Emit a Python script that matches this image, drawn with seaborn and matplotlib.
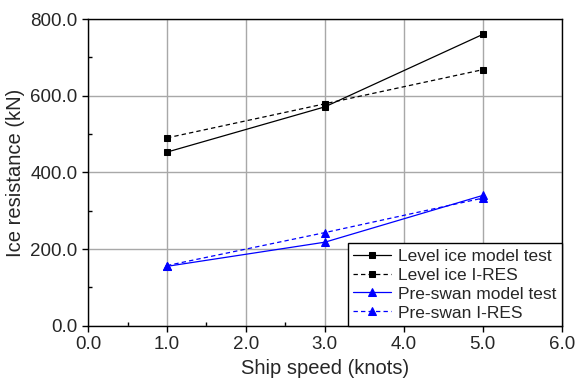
import matplotlib
matplotlib.use("Agg")
import matplotlib.pyplot as plt
import seaborn as sns
import pandas as pd
from matplotlib.ticker import MultipleLocator, FormatStrFormatter

# data
speed = [1.0, 3.0, 5.0]
level_model = [453, 571, 760]
level_ires = [490, 579, 668]
swan_model = [155, 218, 340]
swan_ires = [157, 243, 333]
series_names = ["Level ice model test", "Level ice I-RES", "Pre-swan model test", "Pre-swan I-RES"]

df = pd.DataFrame({
    "speed": speed * 4,
    "res": level_model + level_ires + swan_model + swan_ires,
    "series": [n for n in series_names for _ in speed],
})

sns.set_style("white")
plt.rcParams["font.family"] = ["Liberation Sans", "DejaVu Sans"]

fig, ax = plt.subplots(figsize=(5.87, 3.81), dpi=100)
styles = {
    "Level ice model test": ("black", "-", "s", 5),
    "Level ice I-RES": ("black", "--", "s", 5),
    "Pre-swan model test": ("blue", "-", "^", 6),
    "Pre-swan I-RES": ("blue", "--", "^", 6),
}
for name in series_names:
    c, ls, m, ms = styles[name]
    sns.lineplot(data=df[df.series == name], x="speed", y="res", ax=ax, color=c,
                 linestyle=ls, marker=m, markersize=ms, markeredgecolor=c,
                 linewidth=0.9, label=name)
for line in ax.lines:
    if line.get_linestyle() == "--":
        line.set_dashes((3.5, 2.5))

ax.set_xlim(0, 6)
ax.set_ylim(0, 800)
ax.xaxis.set_major_locator(MultipleLocator(1))
ax.xaxis.set_minor_locator(MultipleLocator(0.5))
ax.yaxis.set_major_locator(MultipleLocator(200))
ax.yaxis.set_minor_locator(MultipleLocator(100))
ax.xaxis.set_major_formatter(FormatStrFormatter("%.1f"))
ax.yaxis.set_major_formatter(FormatStrFormatter("%.1f"))
ax.grid(True, which="major", color="#a8a8a8", linewidth=1.0)
ax.tick_params(which="major", direction="out", length=4, width=1, labelsize=13.5, color="black")
ax.tick_params(which="minor", direction="in", length=3, width=1, color="black")
ax.tick_params(axis="both", which="both", bottom=True, left=True)
for s in ax.spines.values():
    s.set_color("black")
    s.set_linewidth(1.0)

ax.set_xlabel("Ship speed (knots)", fontsize=14.5)
ax.set_ylabel("Ice resistance (kN)", fontsize=14.5)

leg = ax.legend(loc="lower right", fontsize=12.5, frameon=True, fancybox=False,
                edgecolor="black", framealpha=1, borderaxespad=0.0,
                handlelength=2.2, labelspacing=0.22, borderpad=0.3, handletextpad=0.4)
leg.get_frame().set_linewidth(1.0)

fig.subplots_adjust(left=0.15, right=0.957, top=0.95, bottom=0.145)
fig.savefig("out.png", dpi=100)
